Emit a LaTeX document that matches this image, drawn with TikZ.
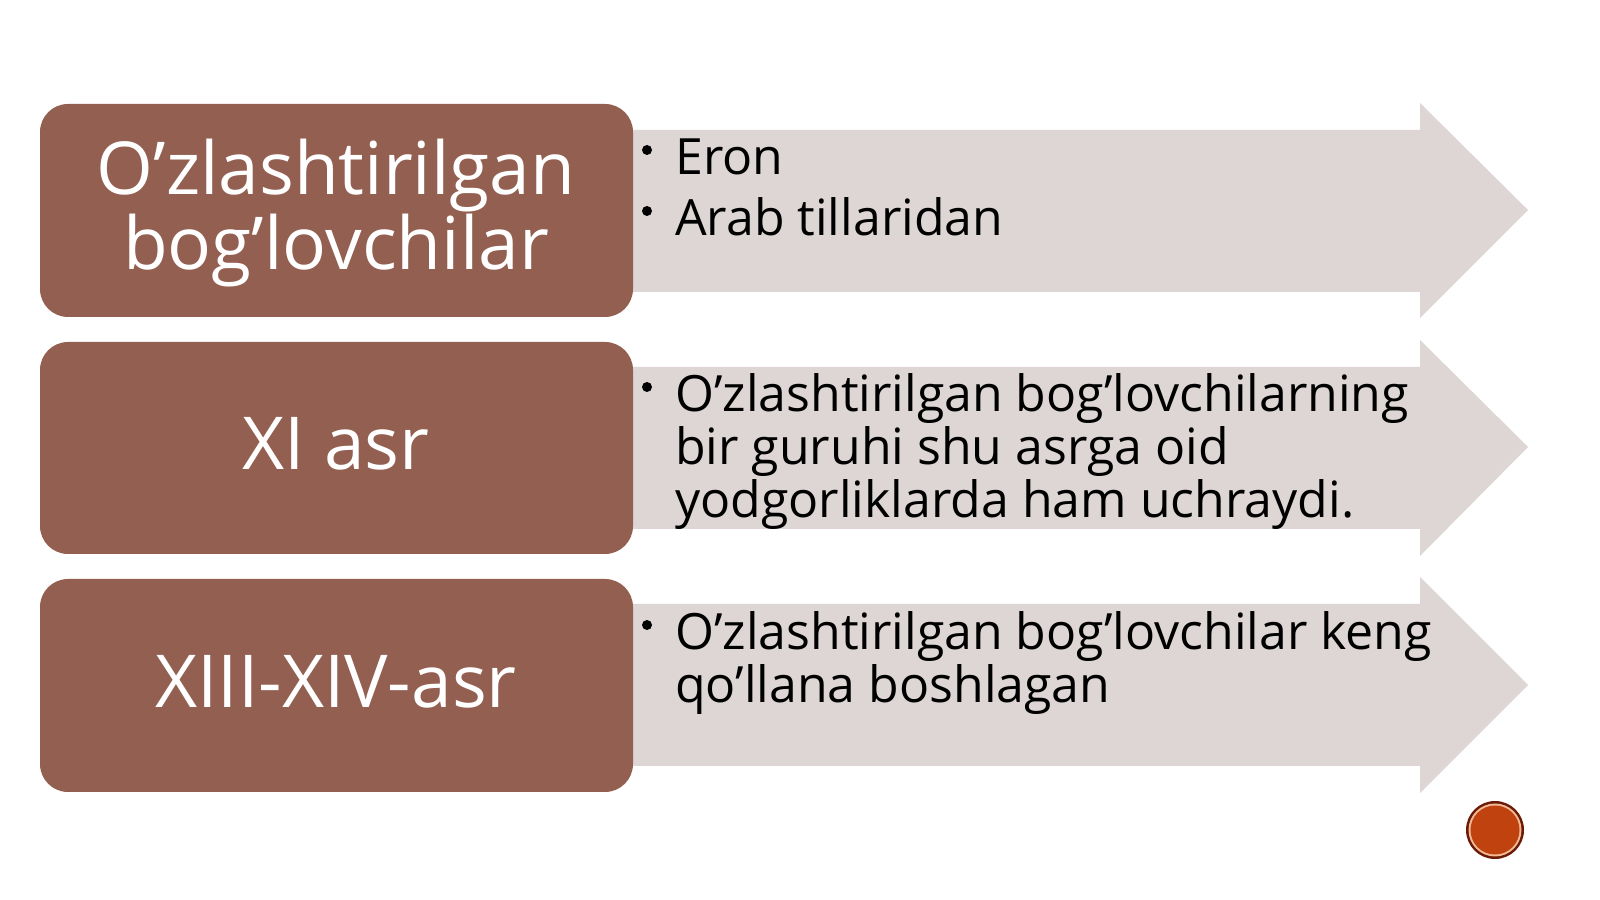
\documentclass[tikz,border=0pt]{standalone}
\usepackage{fontspec}
\setmainfont{Open Sans}
\definecolor{boxbrown}{HTML}{935F51}
\definecolor{arrgray}{HTML}{DDD6D5}
\definecolor{dotred}{HTML}{C0420F}
\definecolor{dotdark}{HTML}{6A1A05}
\definecolor{dotring}{HTML}{F2B896}
\tikzset{
  boxshape/.style={fill=boxbrown, rounded corners=28pt},
  arrowshape/.style={fill=arrgray},
  boxtext/.style={text=white, font=\fontsize{73}{76}\selectfont, align=center, inner sep=0pt},
  linetext/.style={text=black, font=\fontsize{50}{53}\selectfont, anchor=base west, inner sep=0pt},
  bul/.style={fill=black, circle, inner sep=0pt, minimum size=10pt}
}
\begin{document}
\begin{tikzpicture}[x=1pt,y=1pt]
\useasboundingbox (0,0) rectangle (1600,899);
\fill[white] (0,0) rectangle (1600,899);
% arrows
\fill[arrowshape] (600,769) -- (1420,769) -- (1420,796) -- (1528,689) -- (1420,581) -- (1420,607) -- (600,607) -- cycle;
\fill[arrowshape] (600,532) -- (1420,532) -- (1420,559) -- (1528,452) -- (1420,343) -- (1420,370) -- (600,370) -- cycle;
\fill[arrowshape] (600,295) -- (1420,295) -- (1420,322) -- (1528,214) -- (1420,106) -- (1420,133) -- (600,133) -- cycle;
% boxes
\fill[boxshape] (40,582) rectangle (633,795);
\fill[boxshape] (40,345) rectangle (633,557);
\fill[boxshape] (40,107) rectangle (633,320);
% box texts
\node[boxtext, anchor=base] (b1a) at (336,704) {O’zlashtirilgan};
\node[boxtext, anchor=base] (b1b) at (336,629) {bog’lovchilar};
\node[boxtext, anchor=base] (b2) at (336,429) {XI asr};
\node[boxtext, anchor=base] (b3) at (336,191) {XIII-XIV-asr};
% bullets
\node[bul] (p1) at (647,749) {};
\node[bul] (p2) at (647,688) {};
\node[bul] (p3) at (647,512) {};
\node[bul] (p4) at (647,274) {};
% right texts
\node[linetext] (t1) at (675,724) {Eron};
\node[linetext] (t2) at (675,663) {Arab tillaridan};
\node[linetext] (t3) at (675,487) {O’zlashtirilgan bog’lovchilarning};
\node[linetext] (t4) at (675,434) {bir guruhi shu asrga oid};
\node[linetext] (t5) at (675,381) {yodgorliklarda ham uchraydi.};
\node[linetext] (t6) at (675,249) {O’zlashtirilgan bog’lovchilar keng};
\node[linetext] (t7) at (675,196) {qo’llana boshlagan};
% page dot
\fill[dotdark] (1495,69) circle (29);
\fill[dotring] (1495,69) circle (26.5);
\fill[dotred] (1495,69) circle (24.5);
\end{tikzpicture}
\end{document}
